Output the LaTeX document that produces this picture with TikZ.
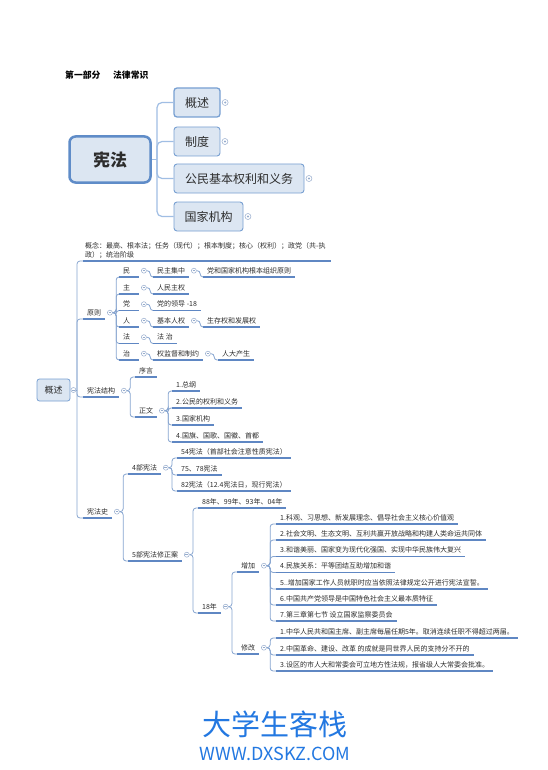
\documentclass[tikz,border=0pt]{standalone}
\usepackage{fontspec}
\setmainfont{Noto Sans CJK SC}
\usetikzlibrary{calc}
\definecolor{ulc}{RGB}{95,135,195}
\definecolor{cnc}{RGB}{135,165,208}
\definecolor{tcn}{RGB}{160,190,228}
\definecolor{mkc}{RGB}{150,172,205}
\definecolor{boxf}{RGB}{220,230,242}
\definecolor{boxd}{RGB}{120,160,210}
\definecolor{bigd}{RGB}{95,140,200}
\definecolor{txt}{RGB}{45,45,45}
\definecolor{wmc}{RGB}{35,120,225}
\newcommand{\tsz}{\fontsize{7}{9}\selectfont}
\tikzset{
  topic/.style={anchor=south west, inner xsep=4pt, inner ysep=2.5pt, text height=5.6pt, text depth=1pt, font=\tsz, text=txt},
  conn/.style={draw=cnc, line width=0.8pt, rounded corners=3pt},
  tconn/.style={draw=tcn, line width=1.2pt, rounded corners=5pt},
  uline/.style={draw=ulc, line width=1.1pt},
  mk/.style={circle, draw=mkc, fill=white, line width=0.5pt, minimum size=5pt, inner sep=0pt,
    path picture={\draw[mkc,line width=0.5pt] ([xshift=-1.3pt]path picture bounding box.center) -- ([xshift=1.3pt]path picture bounding box.center);}},
  mkdot/.style={circle, draw=mkc, fill=white, line width=0.5pt, minimum size=6pt, inner sep=0pt,
    path picture={\fill[mkc] (path picture bounding box.center) circle (1.1pt);}},
  bigbox/.style={draw=bigd, line width=2.5pt, fill=boxf, rounded corners=6pt, minimum width=81pt, minimum height=46pt, font=\fontsize{17}{20}\selectfont\bfseries, text=txt},
  tbox/.style={draw=boxd, line width=0.9pt, fill=boxf, rounded corners=3pt, minimum height=29pt, font=\fontsize{12}{14}\selectfont, text=txt},
  lbox/.style={draw=boxd, line width=0.8pt, fill=boxf, rounded corners=2.5pt, minimum width=33pt, minimum height=22pt, font=\fontsize{9}{11}\selectfont, text=txt},
}
\newcommand{\mkat}[1]{\node[mk] (m#1) at ([shift={(4.5,-6.3)}]#1.south east) {};\coordinate (b#1) at ([xshift=3.5pt]m#1.east);}
\newcommand{\lk}[2]{\draw[conn] (m#1.east) -- (b#1) |- (#2.south west);}
\begin{document}
\begin{tikzpicture}[x=1pt,y=-1pt]
\useasboundingbox (0,0) rectangle (547,770);
\fill[white] (0,0) rectangle (547,770);

% title
\node[anchor=west, inner sep=0pt, font=\fontsize{8.8}{10}\selectfont\bfseries, text=black] (tt) at (65,75) {第一部分\hspace{12.8pt}法律常识};

% top map
\node[bigbox] (xf) at (110,159.5) {宪法};
\node[tbox, minimum width=46pt, line width=1.3pt] (t1) at (197,102.5) {概述};
\node[tbox, minimum width=46pt] (t2) at (197,141.5) {制度};
\node[tbox, minimum width=130pt] (t3) at (239,178.5) {公民基本权利和义务};
\node[tbox, minimum width=69pt] (t4) at (208.5,216.5) {国家机构};
\coordinate (tb) at (157,159.5);
\draw[tconn] (xf.east) -- (tb);
\foreach \c in {t1,t2,t3,t4} {
  \draw[tconn] (tb) |- (\c.west);
  \node[mkdot] (md\c) at ([xshift=4.5pt]\c.east) {};
}

% lower map root
\node[lbox] (gs2) at (53.5,390) {概述};
\node[mk] (mgs2) at ([xshift=3pt]gs2.east) {};
\coordinate (t0) at (77,390);
\draw[conn] (mgs2.east) -- (t0);

% level 1
\node[topic, text width=244pt, inner xsep=2pt, align=left, text depth=10pt] (gn) at (83,261)
  {\mbox{概念：最高、根本法；任务（现代）；根本制度；核心（权利）；政党（共-执}\\政）；统治阶级};
\node[topic] (yz) at (83,319) {原则};
\node[topic] (jg) at (83,397) {宪法结构};
\node[topic] (ls) at (83,518) {宪法史};
\foreach \c in {gn,yz,jg,ls} \draw[conn] (t0) |- (\c.south west);

% 原则
\node[topic, text width=12pt] (r1) at (119,277) {民};
\node[topic, text width=12pt] (r2) at (119,294) {主};
\node[topic, text width=12pt] (r3) at (119,310.5) {党};
\node[topic, text width=12pt] (r4) at (119,327) {人};
\node[topic, text width=12pt] (r5) at (119,343.5) {法};
\node[topic, text width=12pt] (r6) at (119,360) {治};
\node[topic] (s1) at (153,277) {民主集中};
\node[topic] (s2) at (153,294) {人民主权};
\node[topic] (s3) at (153,310.5) {党的领导 -18};
\node[topic] (s4) at (153,327) {基本人权};
\node[topic] (s5) at (153,343.5) {法\ 治};
\node[topic] (s6) at (153,360) {权监督和制约};
\node[topic] (u1) at (203,277) {党和国家机构根本组织原则};
\node[topic] (u4) at (203,327) {生存权和发展权};
\node[topic] (u6) at (218,360) {人大产生};
\mkat{yz}
\foreach \c in {r1,r2,r3,r4,r5,r6} \lk{yz}{\c};
\mkat{r1}\mkat{r2}\mkat{r3}\mkat{r4}\mkat{r5}\mkat{r6}
\lk{r1}{s1}\lk{r2}{s2}\lk{r3}{s3}\lk{r4}{s4}\lk{r5}{s5}\lk{r6}{s6}
\mkat{s1}\mkat{s4}\mkat{s6}
\lk{s1}{u1}\lk{s4}{u4}\lk{s6}{u6}

% 宪法结构
\node[topic] (xy) at (135,377) {序言};
\node[topic] (zw) at (135,417) {正文};
\mkat{jg}
\lk{jg}{xy}\lk{jg}{zw}
\node[topic] (z1) at (172,391) {1.总纲};
\node[topic] (z2) at (172,408) {2.公民的权利和义务};
\node[topic] (z3) at (172,425) {3.国家机构};
\node[topic] (z4) at (172,442) {4.国旗、国歌、国徽、首都};
\mkat{zw}
\foreach \c in {z1,z2,z3,z4} \lk{zw}{\c};

% 宪法史
\node[topic] (bs) at (128,474) {4部宪法};
\node[topic] (xz) at (128,561) {5部宪法修正案};
\mkat{ls}
\lk{ls}{bs}\lk{ls}{xz}
\node[topic] (c54) at (177,458) {54宪法（首部社会注意性质宪法）};
\node[topic] (c75) at (177,475) {75、78宪法};
\node[topic] (c82) at (177,491) {82宪法（12.4宪法日，现行宪法）};
\mkat{bs}
\foreach \c in {c54,c75,c82} \lk{bs}{\c};
\node[topic] (c88) at (198,508) {88年、99年、93年、04年};
\node[topic] (c18) at (198,613) {18年};
\mkat{xz}
\lk{xz}{c88}\lk{xz}{c18}
\node[topic] (zj) at (237,572) {增加};
\node[topic] (xg) at (237,654) {修改};
\mkat{c18}
\lk{c18}{zj}\lk{c18}{xg}
\node[topic] (a1) at (276,524) {1.科观、习思想、新发展理念、倡导社会主义核心价值观};
\node[topic] (a2) at (276,540) {2.社会文明、生态文明、互利共赢开放战略和构建人类命运共同体};
\node[topic] (a3) at (276,556.5) {3.和谐美丽、国家变为现代化强国、实现中华民族伟大复兴};
\node[topic] (a4) at (276,572.5) {4.民族关系：平等团结互助增加和谐};
\node[topic] (a5) at (276,589) {5..增加国家工作人员就职时应当依照法律规定公开进行宪法宣誓。};
\node[topic] (a6) at (276,605) {6.中国共产党领导是中国特色社会主义最本质特征};
\node[topic] (a7) at (276,621) {7.第三章第七节 设立国家监察委员会};
\mkat{zj}
\foreach \c in {a1,a2,a3,a4,a5,a6,a7} \lk{zj}{\c};
\node[topic] (g1) at (276,638) {1.中华人民共和国主席、副主席每届任期5年。取消连续任职不得超过两届。};
\node[topic] (g2) at (276,655) {2.中国革命、建设、改革 的成就是同世界人民的支持分不开的};
\node[topic] (g3) at (276,671) {3.设区的市人大和常委会可立地方性法规，报省级人大常委会批准。};
\mkat{xg}
\foreach \c in {g1,g2,g3} \lk{xg}{\c};

% underlines
\foreach \c in {gn,yz,jg,ls,r1,r2,r3,r4,r5,r6,s1,s2,s3,s4,s5,s6,u1,u4,u6,xy,zw,z1,z2,z3,z4,bs,xz,c54,c75,c82,c88,c18,zj,xg,a1,a2,a3,a4,a5,a6,a7,g1,g2,g3}
  \draw[uline] (\c.south west) -- (\c.south east);

% markers on top of lines (redraw)
\foreach \c in {gs2} {}
% watermark
\node[text=wmc, font=\fontsize{29}{32}\selectfont, inner sep=0pt] (w1) at (275,724) {大学生客栈};
\node[text=wmc, font=\fontsize{18}{20}\selectfont, inner sep=0pt] (w2) at (275,754) {WWW.DXSKZ.COM};
\end{tikzpicture}
\end{document}
